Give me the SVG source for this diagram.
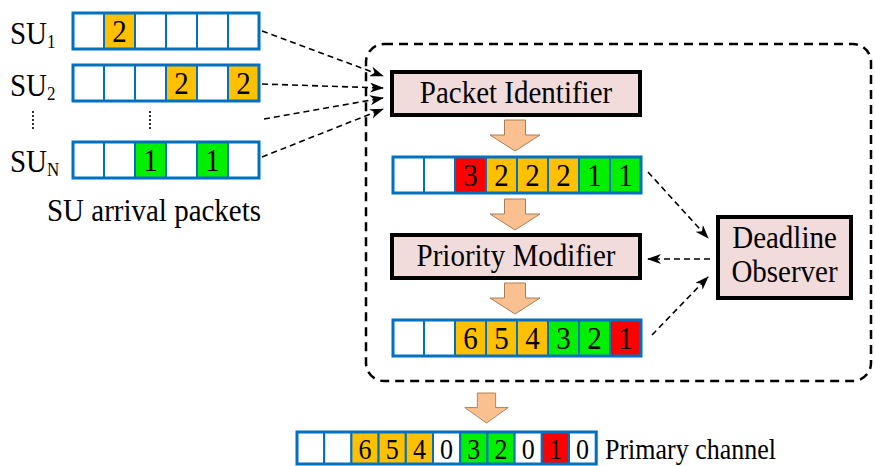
<svg xmlns="http://www.w3.org/2000/svg" width="875" height="466" viewBox="0 0 875 466">
<defs>
<marker id="ah" markerWidth="14" markerHeight="10" refX="13" refY="5" orient="auto" markerUnits="userSpaceOnUse"><path d="M0,0 L14,5 L0,10 L4,5 z" fill="#000"/></marker>
<path id="barrow" d="M-10.5,0 H10.5 V15 H25 L0,31 L-25,15 H-10.5 Z"/>
</defs>
<style>
.cell{fill:#fff;stroke:#0070C0;stroke-width:2}
.o{fill:#FFC000}.g{fill:#00F000}.r{fill:#FF0000}
.qb{fill:none;stroke:#0070C0;stroke-width:3}
.box{fill:#F2DCDB;stroke:#000;stroke-width:4}
.t{font-family:"Liberation Serif","Times New Roman",serif;fill:#000;font-size:29px}
.s{font-size:26px}
.ba{fill:#FAC090;stroke:#A87E58;stroke-width:1}
.con{fill:none;stroke:#000;stroke-width:1.6;stroke-dasharray:6 4;marker-end:url(#ah)}
.frame{fill:none;stroke:#000;stroke-width:2.5;stroke-dasharray:9 6}
.dots{stroke:#000;stroke-width:2.2;stroke-linecap:round;stroke-dasharray:0 4}
</style>
<rect width="875" height="466" fill="#fff"/>
<rect class="frame" x="366" y="44" width="505" height="337" rx="18"/>

<g id="su-rows">
<g id="su1">
<text class="t" transform="translate(10,44) scale(1,1.12)">SU<tspan font-size="17" dy="4">1</tspan></text>
<rect class="cell" x="73" y="13" width="31" height="36"/><rect class="cell o" x="104" y="13" width="31" height="36"/><rect class="cell" x="135" y="13" width="31" height="36"/><rect class="cell" x="166" y="13" width="31" height="36"/><rect class="cell" x="197" y="13" width="31" height="36"/><rect class="cell" x="228" y="13" width="31" height="36"/>
<rect class="qb" x="73" y="13" width="186" height="36"/>
<text class="t" text-anchor="middle" transform="translate(119.5,42) scale(1,1.12)">2</text>
</g>
<g id="su2">
<text class="t" transform="translate(10,96) scale(1,1.12)">SU<tspan font-size="17" dy="4">2</tspan></text>
<rect class="cell" x="73" y="65" width="31" height="36"/><rect class="cell" x="104" y="65" width="31" height="36"/><rect class="cell" x="135" y="65" width="31" height="36"/><rect class="cell o" x="166" y="65" width="31" height="36"/><rect class="cell" x="197" y="65" width="31" height="36"/><rect class="cell o" x="228" y="65" width="31" height="36"/>
<rect class="qb" x="73" y="65" width="186" height="36"/>
<text class="t" text-anchor="middle" transform="translate(181.5,94) scale(1,1.12)">2</text>
<text class="t" text-anchor="middle" transform="translate(243.5,94) scale(1,1.12)">2</text>
</g>
<line class="dots" x1="33" y1="112" x2="33" y2="129"/>
<line class="dots" x1="150" y1="112" x2="150" y2="129"/>
<g id="suN">
<text class="t" transform="translate(10,172) scale(1,1.12)">SU<tspan font-size="17" dy="4">N</tspan></text>
<rect class="cell" x="73" y="142" width="31" height="36"/><rect class="cell" x="104" y="142" width="31" height="36"/><rect class="cell g" x="135" y="142" width="31" height="36"/><rect class="cell" x="166" y="142" width="31" height="36"/><rect class="cell g" x="197" y="142" width="31" height="36"/><rect class="cell" x="228" y="142" width="31" height="36"/>
<rect class="qb" x="73" y="142" width="186" height="36"/>
<text class="t" text-anchor="middle" transform="translate(150.5,171) scale(1,1.12)">1</text>
<text class="t" text-anchor="middle" transform="translate(212.5,171) scale(1,1.12)">1</text>
</g>
<text id="su-caption" class="t" transform="translate(47,221) scale(1,1.12)">SU arrival packets</text>
</g>

<g id="packet-identifier">
<rect class="box" x="392" y="72" width="248" height="43"/>
<text class="t" text-anchor="middle" transform="translate(516,103) scale(1,1.12)">Packet Identifier</text>
</g>

<g id="queue1">
<rect class="cell" x="393" y="157" width="31" height="36"/><rect class="cell" x="424" y="157" width="31" height="36"/><rect class="cell r" x="455" y="157" width="31" height="36"/><rect class="cell o" x="486" y="157" width="31" height="36"/><rect class="cell o" x="517" y="157" width="31" height="36"/><rect class="cell o" x="548" y="157" width="31" height="36"/><rect class="cell g" x="579" y="157" width="31" height="36"/><rect class="cell g" x="610" y="157" width="31" height="36"/>
<rect class="qb" x="393" y="157" width="248" height="36"/>
<text class="t" text-anchor="middle" transform="translate(470.5,186) scale(1,1.12)">3</text>
<text class="t" text-anchor="middle" transform="translate(501.5,186) scale(1,1.12)">2</text>
<text class="t" text-anchor="middle" transform="translate(532.5,186) scale(1,1.12)">2</text>
<text class="t" text-anchor="middle" transform="translate(563.5,186) scale(1,1.12)">2</text>
<text class="t" text-anchor="middle" transform="translate(594.5,186) scale(1,1.12)">1</text>
<text class="t" text-anchor="middle" transform="translate(625.5,186) scale(1,1.12)">1</text>
</g>

<g id="priority-modifier">
<rect class="box" x="392" y="235" width="248" height="43"/>
<text class="t" text-anchor="middle" transform="translate(516,266) scale(1,1.12)">Priority Modifier</text>
</g>

<g id="queue2">
<rect class="cell" x="393" y="320" width="31" height="36"/><rect class="cell" x="424" y="320" width="31" height="36"/><rect class="cell o" x="455" y="320" width="31" height="36"/><rect class="cell o" x="486" y="320" width="31" height="36"/><rect class="cell o" x="517" y="320" width="31" height="36"/><rect class="cell g" x="548" y="320" width="31" height="36"/><rect class="cell g" x="579" y="320" width="31" height="36"/><rect class="cell r" x="610" y="320" width="31" height="36"/>
<rect class="qb" x="393" y="320" width="248" height="36"/>
<text class="t" text-anchor="middle" transform="translate(470.5,349) scale(1,1.12)">6</text>
<text class="t" text-anchor="middle" transform="translate(501.5,349) scale(1,1.12)">5</text>
<text class="t" text-anchor="middle" transform="translate(532.5,349) scale(1,1.12)">4</text>
<text class="t" text-anchor="middle" transform="translate(563.5,349) scale(1,1.12)">3</text>
<text class="t" text-anchor="middle" transform="translate(594.5,349) scale(1,1.12)">2</text>
<text class="t" text-anchor="middle" transform="translate(625.5,349) scale(1,1.12)">1</text>
</g>

<g id="deadline-observer">
<rect class="box" x="718" y="217" width="133" height="81"/>
<text class="t" text-anchor="middle" transform="translate(784.5,248) scale(1,1.12)">Deadline</text>
<text class="t" text-anchor="middle" transform="translate(784.5,282) scale(1,1.12)">Observer</text>
</g>

<g id="primary-channel">
<rect class="cell" x="297" y="432" width="27.2" height="32"/><rect class="cell" x="324.2" y="432" width="27.2" height="32"/><rect class="cell o" x="351.4" y="432" width="27.2" height="32"/><rect class="cell o" x="378.6" y="432" width="27.2" height="32"/><rect class="cell o" x="405.8" y="432" width="27.2" height="32"/><rect class="cell" x="433" y="432" width="27.2" height="32"/><rect class="cell g" x="460.2" y="432" width="27.2" height="32"/><rect class="cell g" x="487.4" y="432" width="27.2" height="32"/><rect class="cell" x="514.6" y="432" width="27.2" height="32"/><rect class="cell r" x="541.8" y="432" width="27.2" height="32"/><rect class="cell" x="569" y="432" width="27.2" height="32"/>
<rect class="qb" x="297" y="432" width="299.2" height="32"/>
<text class="t s" text-anchor="middle" transform="translate(365,459) scale(1,1.12)">6</text>
<text class="t s" text-anchor="middle" transform="translate(392.2,459) scale(1,1.12)">5</text>
<text class="t s" text-anchor="middle" transform="translate(419.4,459) scale(1,1.12)">4</text>
<text class="t s" text-anchor="middle" transform="translate(446.6,459) scale(1,1.12)">0</text>
<text class="t s" text-anchor="middle" transform="translate(473.8,459) scale(1,1.12)">3</text>
<text class="t s" text-anchor="middle" transform="translate(501,459) scale(1,1.12)">2</text>
<text class="t s" text-anchor="middle" transform="translate(528.2,459) scale(1,1.12)">0</text>
<text class="t s" text-anchor="middle" transform="translate(555.4,459) scale(1,1.12)">1</text>
<text class="t s" text-anchor="middle" transform="translate(582.6,459) scale(1,1.12)">0</text>
<text class="t s" transform="translate(605,459) scale(1,1.12)">Primary channel</text>
</g>

<g id="block-arrows" class="ba">
<use href="#barrow" transform="translate(515,120)"/>
<use href="#barrow" transform="translate(515,199)"/>
<use href="#barrow" transform="translate(515,283)"/>
<use href="#barrow" transform="translate(486.5,393) scale(0.87,0.97)"/>
</g>

<g id="connectors">
<line class="con" x1="262" y1="31" x2="383" y2="76"/>
<line class="con" x1="262" y1="84" x2="383" y2="88"/>
<line class="con" x1="264" y1="119" x2="383" y2="98"/>
<line class="con" x1="262" y1="157" x2="383" y2="109"/>
<line class="con" x1="648" y1="172" x2="708" y2="238"/>
<line class="con" x1="710" y1="259" x2="648" y2="259"/>
<line class="con" x1="652" y1="335" x2="708" y2="277"/>
</g>
</svg>
